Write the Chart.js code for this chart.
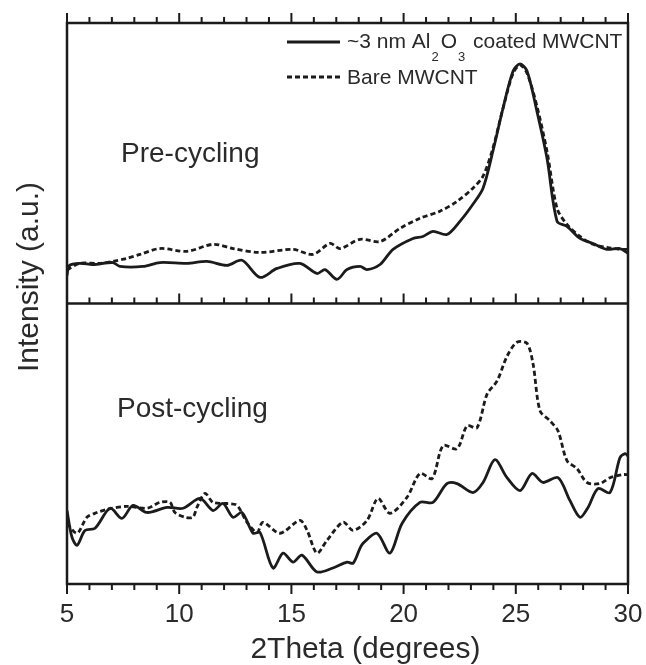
<!DOCTYPE html>
<html>
<head>
<meta charset="utf-8">
<script src="https://cdn.jsdelivr.net/npm/chart.js@4.4.1/dist/chart.umd.min.js"></script>
<style>
  body { margin: 0; background: #fff; }
</style>
</head>
<body>
<canvas id="xrd" width="646" height="665"></canvas>
<script>
// x ticks (2Theta, degrees)
const xTicks = [5, 10, 15, 20, 25, 30];

// Pre-cycling, ~3 nm Al2O3 coated MWCNT
const preCoatedX = [5.0, 5.1, 5.58, 6.16, 7.05, 7.36, 8.39, 9.14, 10.35, 11.24, 12.13, 12.8, 13.6, 14.36, 15.38, 16.14, 16.5, 17.03, 17.48, 18.06, 18.37, 18.95, 19.53, 20.42, 20.86, 21.31, 21.93, 22.51, 23.09, 23.54, 23.98, 24.43, 24.88, 25.19, 25.5, 25.94, 26.39, 26.84, 27.28, 27.86, 28.44, 29.06, 29.64, 30.0];
const preCoatedY = [10, 13.5, 14.3, 13.9, 14.6, 13.2, 13.2, 14.6, 14.3, 15.0, 13.6, 15.4, 9.3, 12.5, 14.3, 10.7, 12.1, 8.6, 12.1, 13.2, 12.1, 13.9, 19.3, 23.2, 23.9, 25.7, 24.6, 29.3, 35.4, 41.1, 54.3, 69.6, 82.9, 85.4, 82.9, 68.6, 51.8, 29.3, 27.5, 23.2, 21.4, 19.3, 19.6, 17.9];

// Pre-cycling, bare MWCNT
const preBareX = [5.0, 5.58, 6.47, 7.05, 7.67, 8.25, 9.14, 10.35, 11.51, 12.4, 13.6, 15.07, 15.96, 16.72, 17.17, 18.06, 18.95, 19.84, 20.73, 21.62, 22.38, 23.09, 23.54, 23.98, 24.43, 24.88, 25.19, 25.5, 25.94, 26.39, 26.84, 27.28, 27.86, 28.44, 29.06, 29.64, 30.0];
const preBareY = [12, 14.3, 14.3, 15.0, 16.1, 17.5, 19.6, 18.6, 21.1, 19.6, 18.2, 19.3, 17.5, 21.4, 19.6, 22.9, 22.1, 26.8, 30.4, 32.9, 36.4, 41.1, 45.4, 55.4, 69.6, 82.1, 85.0, 82.1, 70.4, 54.3, 33.9, 28.2, 23.9, 21.1, 20.0, 19.3, 19.3];

// Post-cycling, ~3 nm Al2O3 coated MWCNT
const postCoatedX = [5.0, 5.22, 5.45, 5.8, 6.25, 6.92, 7.45, 7.94, 8.57, 9.46, 10.17, 10.93, 11.51, 11.95, 12.4, 12.8, 13.29, 13.6, 14.18, 14.63, 15.07, 15.47, 16.14, 16.85, 17.48, 17.75, 18.06, 18.19, 18.81, 19.39, 19.93, 20.73, 21.31, 21.93, 22.38, 23.09, 23.54, 24.07, 24.61, 25.19, 25.72, 26.21, 26.88, 27.41, 27.86, 28.22, 28.66, 29.2, 29.64, 29.87, 30.0];
const postCoatedY = [26.2, 16.7, 13.8, 19.1, 19.9, 27.0, 23.4, 28.0, 25.5, 27.3, 27.0, 30.5, 26.2, 28.7, 23.8, 25.5, 18.1, 18.4, 5.7, 11.0, 7.8, 10.3, 4.3, 5.7, 7.8, 7.4, 12.8, 14.5, 18.1, 11.0, 21.6, 29.1, 29.1, 35.8, 35.8, 32.6, 36.2, 44.3, 37.9, 33.3, 39.4, 36.2, 37.9, 29.8, 23.8, 27.3, 34.0, 32.6, 45.0, 46.5, 45.7];

// Post-cycling, bare MWCNT
const postBareX = [5.0, 5.45, 5.89, 6.34, 6.78, 7.67, 8.57, 9.14, 9.59, 9.81, 10.26, 10.61, 10.79, 11.15, 11.51, 12.13, 12.58, 13.02, 13.47, 13.73, 14.49, 15.38, 15.7, 16.14, 16.59, 17.3, 17.75, 18.37, 18.86, 19.39, 20.15, 20.73, 21.27, 21.76, 22.38, 22.83, 23.27, 23.72, 24.16, 24.61, 25.05, 25.5, 25.77, 26.08, 26.52, 26.88, 27.28, 27.73, 28.17, 28.75, 29.2, 29.78, 30.0];
const postBareY = [21.6, 18.1, 23.8, 25.5, 26.6, 27.7, 27.0, 29.1, 29.1, 25.5, 23.8, 23.8, 27.3, 32.3, 29.1, 28.7, 28.0, 22.0, 18.4, 22.0, 18.1, 22.7, 19.1, 11.0, 15.6, 22.0, 19.1, 22.7, 30.5, 25.2, 30.9, 39.4, 37.6, 49.3, 48.2, 56.4, 55.7, 67.7, 72.3, 81.2, 86.2, 85.8, 78.4, 61.7, 58.2, 54.6, 44.0, 41.1, 36.2, 35.8, 37.9, 39.0, 39.0];

const coatedLabel = '~3 nm Al\u2082O\u2083 coated MWCNT';
const bareLabel = 'Bare MWCNT';

const ink = '#1b1b1b';
const textInk = '#2a2a2a';
const fontFamily = '"Liberation Sans", Arial, Helvetica, sans-serif';

const toPoints = (xs, ys) => xs.map((x, i) => ({ x: x, y: ys[i] }));

function series(label, xs, ys, axis, dashed) {
    return {
        label: label,
        data: toPoints(xs, ys),
        yAxisID: axis,
        borderColor: ink,
        borderWidth: 2.8,
        borderDash: dashed ? [5, 3] : [],
        pointRadius: 0,
        tension: 0.3,
        fill: false
    };
}

// frame, ticks, legend and text labels
const decorations = {
    id: 'decorations',
    afterDatasetsDraw(chart) {
        const { ctx, chartArea: a, scales } = chart;
        const xs = scales.x;
        const mid = scales.yPre.bottom;
        ctx.save();

        // panel frames
        ctx.strokeStyle = ink;
        ctx.lineWidth = 2.5;
        ctx.setLineDash([]);
        ctx.strokeRect(a.left, a.top, a.right - a.left, a.bottom - a.top);
        ctx.beginPath();
        ctx.moveTo(a.left, mid);
        ctx.lineTo(a.right, mid);
        ctx.stroke();

        // major / minor ticks on top, middle and bottom edges
        ctx.lineWidth = 2;
        for (let v = xTicks[0]; v <= xTicks[xTicks.length - 1]; v++) {
            const px = xs.getPixelForValue(v);
            const len = xTicks.includes(v) ? 10 : 6;
            ctx.beginPath();
            ctx.moveTo(px, a.top); ctx.lineTo(px, a.top - len);
            ctx.moveTo(px, mid); ctx.lineTo(px, mid - len);
            ctx.moveTo(px, a.bottom); ctx.lineTo(px, a.bottom + len);
            ctx.stroke();
        }

        // legend
        const ds = chart.data.datasets;
        const items = [ds[0], ds[1]];
        const lx0 = 287, lx1 = 340, tx = 347;
        const rows = [42, 77];
        items.forEach((d, i) => {
            ctx.strokeStyle = d.borderColor;
            ctx.lineWidth = 3;
            ctx.setLineDash(d.borderDash);
            ctx.beginPath();
            ctx.moveTo(lx0, rows[i]);
            ctx.lineTo(lx1, rows[i]);
            ctx.stroke();
        });
        ctx.setLineDash([]);
        ctx.fillStyle = textInk;
        ctx.textAlign = 'left';
        ctx.textBaseline = 'alphabetic';
        const big = '21px ' + fontFamily;
        const small = '13px ' + fontFamily;
        const parts = [['~3 nm Al', big, 0], ['2', small, 13], ['O', big, 0], ['3', small, 13], [' coated MWCNT', big, 0]];
        let cx = tx;
        parts.forEach(p => {
            ctx.font = p[1];
            if (p[2]) cx += 1;
            ctx.fillText(p[0], cx, 48 + p[2]);
            cx += ctx.measureText(p[0]).width + (p[2] ? 2 : 0);
        });
        ctx.font = big;
        ctx.fillText(bareLabel, tx, 84);

        // panel labels
        ctx.font = '28px ' + fontFamily;
        ctx.fillText('Pre-cycling', 121, 162);
        ctx.fillText('Post-cycling', 117, 417);

        // axis titles
        ctx.font = '30px ' + fontFamily;
        ctx.textAlign = 'center';
        ctx.fillText('2Theta (degrees)', xs.getPixelForValue(18.3), 658);
        ctx.save();
        ctx.translate(38, 277);
        ctx.rotate(-Math.PI / 2);
        ctx.fillText('Intensity (a.u.)', 0, 0);
        ctx.restore();

        ctx.restore();
    }
};

const hiddenY = (weight) => ({
    type: 'linear',
    min: 0,
    max: 100,
    stack: 'panels',
    stackWeight: 1,
    weight: weight,
    position: 'left',
    ticks: { display: false },
    grid: { display: false },
    border: { display: false },
    afterFit: s => { s.width = 0; }
});

new Chart(document.getElementById('xrd'), {
    type: 'line',
    data: {
        datasets: [
            series(coatedLabel, preCoatedX, preCoatedY, 'yPre', false),
            series(bareLabel, preBareX, preBareY, 'yPre', true),
            series(coatedLabel, postCoatedX, postCoatedY, 'yPost', false),
            series(bareLabel, postBareX, postBareY, 'yPost', true)
        ]
    },
    options: {
        responsive: false,
        animation: false,
        layout: { padding: { left: 67, right: 18, top: 23, bottom: 0 } },
        plugins: {
            legend: { display: false },
            tooltip: { enabled: false }
        },
        scales: {
            x: {
                type: 'linear',
                min: 5,
                max: 30,
                position: 'bottom',
                afterBuildTicks: s => { s.ticks = xTicks.map(v => ({ value: v })); },
                ticks: {
                    color: textInk,
                    padding: 15,
                    font: { family: fontFamily, size: 26 }
                },
                grid: { display: false, drawTicks: false },
                border: { display: false },
                afterFit: s => {
                    s.height = 81;
                    s.paddingLeft = 0;
                    s.paddingRight = 0;
                }
            },
            yPre: hiddenY(2),
            yPost: hiddenY(1)
        }
    },
    plugins: [decorations]
});
</script>
</body>
</html>
